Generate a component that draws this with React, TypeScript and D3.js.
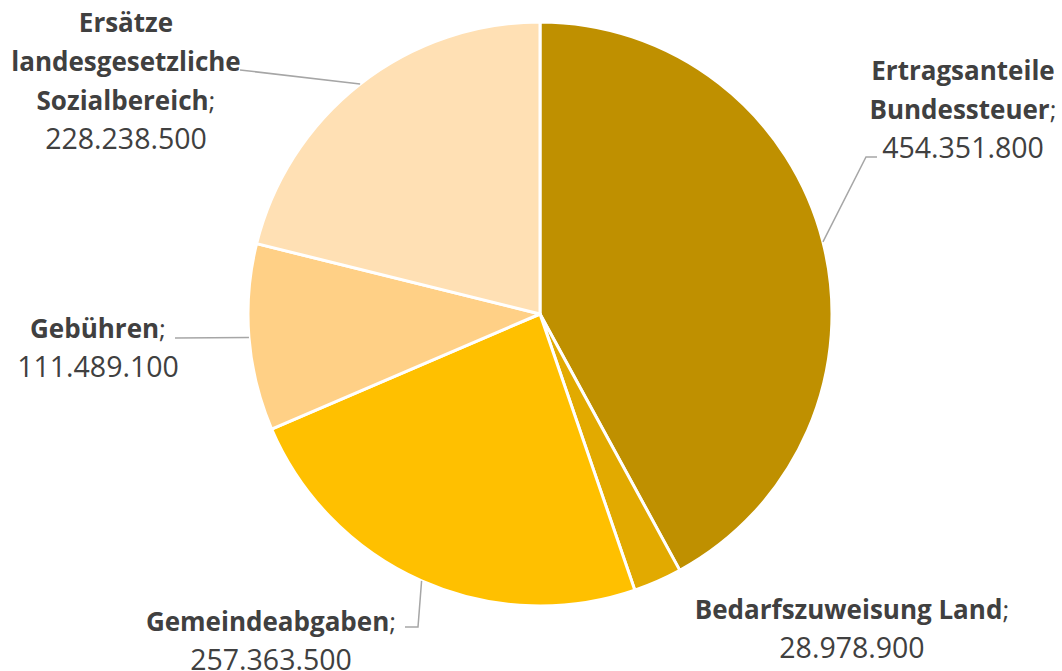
import React from "react";
import * as d3 from "d3";

const categories = [
  "Ertragsanteile Bundessteuer",
  "Bedarfszuweisung Land",
  "Gemeindeabgaben",
  "Gebühren",
  "Ersätze landesgesetzliche Sozialbereich",
];
const values = [454351800, 28978900, 257363500, 111489100, 228238500];
const colors = ["#BF9000", "#E2AA00", "#FFC000", "#FFD086", "#FFE0B4"];

// label layout: name lines, centre x, first baseline, leader path points after arc point
const labelLines = [
  ["Ertragsanteile", "Bundessteuer;"],
  ["Bedarfszuweisung Land;"],
  ["Gemeindeabgaben;"],
  ["Gebühren;"],
  ["Ersätze", "landesgesetzliche", "Sozialbereich;"],
];
const labelPos = [
  { x: 963, y: 80 },
  { x: 852, y: 619 },
  { x: 271, y: 631 },
  { x: 98, y: 338 },
  { x: 126, y: 32 },
];
const leaders: ([number, number][] | null)[] = [
  [[866, 157], [877, 157]],
  null,
  [[418, 627], [405, 627]],
  [[175, 338]],
  [[240, 70]],
];

const fmt = (v: number) => d3.format(",")(v).replace(/,/g, ".");

export default function App() {
  const W = 1062, H = 671;
  const cx = 540, cy = 314, r = 292;
  const pie = d3.pie<number>().sort(null).value((d) => d)(values);
  const arc = d3.arc<d3.PieArcDatum<number>>().innerRadius(0).outerRadius(r);
  const lh = 39;
  return (
    <svg width={W} height={H} style={{ position: "absolute", left: 0, top: 0, background: "#fff" }}
      fontFamily="'Open Sans', sans-serif">
      <g transform={`translate(${cx},${cy})`}>
        {pie.map((p, i) => (
          <path key={i} d={arc(p) || ""} fill={colors[i]} stroke="#fff" strokeWidth={3} strokeLinejoin="round" />
        ))}
      </g>
      {pie.map((p, i) => {
        const pts = leaders[i];
        if (!pts) return null;
        const a = (p.startAngle + p.endAngle) / 2;
        const start: [number, number] = [cx + r * Math.sin(a), cy - r * Math.cos(a)];
        const line = d3.line()([start, ...pts]);
        return <path key={"l" + i} d={line || ""} fill="none" stroke="#A6A6A6" strokeWidth={1.5} />;
      })}
      {labelLines.map((lines, i) => {
        const { x, y } = labelPos[i];
        return (
          <g key={"t" + i} fill="#404040" fontSize={26} textAnchor="middle">
            {lines.map((ln, j) => {
              const semi = ln.endsWith(";");
              return (
                <text key={j} x={x} y={y + j * lh}>
                  <tspan fontWeight="bold">{semi ? ln.slice(0, -1) : ln}</tspan>
                  {semi ? <tspan>;</tspan> : null}
                </text>
              );
            })}
            <text x={x} y={y + lines.length * lh} fontSize={28.5}>{fmt(values[i])}</text>
          </g>
        );
      })}
    </svg>
  );
}
